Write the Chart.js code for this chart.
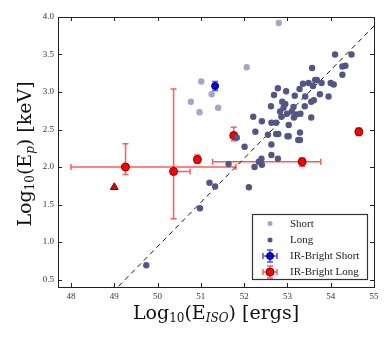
<!DOCTYPE html>
<html>
<head>
<meta charset="utf-8">
<script src="https://cdn.jsdelivr.net/npm/chart.js@4.4.0/dist/chart.umd.min.js"></script>
<style>
  body { margin: 0; background: #fff; }
  #wrap { position: relative; width: 391px; height: 341px; }
</style>
</head>
<body>
<div id="wrap"><canvas id="chart"></canvas></div>
<script>
// tick labels
const xTicks = [48, 49, 50, 51, 52, 53, 54, 55];
const yTicks = [0.5, 1.0, 1.5, 2.0, 2.5, 3.0, 3.5, 4.0];

// Short GRBs
const shortX = [52.80, 52.06, 51.01, 50.77, 50.97, 51.25, 51.40];
const shortY = [3.92, 3.33, 3.14, 2.87, 2.73, 2.97, 2.79];

// Long GRBs
const longX = [49.74, 50.98, 51.20, 51.33, 51.64, 51.83, 52.01, 52.11, 52.21, 52.26,
  52.24, 52.34, 52.40, 52.41, 52.41, 52.55, 52.62, 52.63, 52.63, 52.63,
  52.69, 52.74, 52.74, 52.78, 52.79, 52.78, 52.83, 52.86, 52.88, 52.91,
  52.95, 52.97, 52.99, 53.00, 53.03, 53.03, 53.10, 53.14, 53.15, 53.17,
  53.20, 53.25, 53.29, 53.29, 53.30, 53.28, 53.36, 53.40, 53.41, 53.49,
  53.57, 53.55, 53.55, 53.59, 53.64, 53.61, 53.68, 53.75, 53.79, 53.95,
  54.00, 54.07, 54.10, 54.27, 54.27, 54.34, 54.48];
const longY = [0.69, 1.45, 1.79, 1.74, 2.04, 2.39, 2.27, 1.73, 2.67, 2.47,
  2.00, 2.07, 2.11, 2.03, 2.61, 2.43, 2.81, 2.59, 2.30, 2.16,
  2.96, 2.59, 2.44, 3.05, 2.44, 2.11, 2.74, 2.67, 2.87, 2.79,
  2.84, 3.01, 2.71, 2.41, 2.41, 2.56, 2.74, 2.80, 2.66, 2.95,
  2.70, 2.36, 2.36, 2.46, 2.71, 3.04, 3.11, 2.81, 2.94, 3.12,
  3.32, 2.66, 2.87, 3.08, 3.16, 2.89, 3.16, 2.97, 3.12, 2.94,
  3.12, 3.10, 3.50, 3.23, 3.34, 3.35, 3.50];

// IR-bright short
const irShortX = [51.33];
const irShortY = [3.08];
const irShortXErr = [0.05];
const irShortYErr = [0.06];

// IR-bright long (asymmetric errors)
const irLongX = [49.26, 50.37, 50.92, 51.76, 53.34, 54.65];
const irLongY = [2.00, 1.94, 2.10, 2.42, 2.07, 2.47];
const irLongXLo = [1.26, 0.00, 0.05, 0.05, 2.07, 0.04];
const irLongXHi = [2.55, 0.38, 0.05, 0.05, 0.43, 0.04];
const irLongYLo = [0.10, 0.63, 0.05, 0.07, 0.06, 0.05];
const irLongYHi = [0.31, 1.10, 0.06, 0.11, 0.05, 0.05];

// limit marker
const limitX = [49.0];
const limitY = [1.73];

// dashed relation
const fitX = [49.1, 55.0];
const fitY = [0.41, 3.88];

const pts = (xs, ys) => xs.map((x, i) => ({ x: x, y: ys[i] }));

const serif = "'Liberation Serif', 'Times New Roman', serif";
const titleFont = "'DejaVu Serif', serif";

// error bars drawn right before their own dataset
const errorBars = {
  id: 'errorBars',
  beforeDatasetDraw(chart, args) {
    const ds = chart.data.datasets[args.index];
    if (!ds.err) return;
    const xs = chart.scales.x, ys = chart.scales.y, ctx = chart.ctx;
    const e = ds.err;
    ctx.save();
    ctx.strokeStyle = ds.errColor;
    ctx.lineWidth = 1.5;
    ds.data.forEach((p, i) => {
      const px = xs.getPixelForValue(p.x), py = ys.getPixelForValue(p.y);
      const cap = 3;
      if (e.xLo[i] > 0 || e.xHi[i] > 0) {
        const x0 = xs.getPixelForValue(p.x - e.xLo[i]);
        const x1 = xs.getPixelForValue(p.x + e.xHi[i]);
        ctx.beginPath();
        ctx.moveTo(x0, py); ctx.lineTo(x1, py);
        if (e.xLo[i] > 0) { ctx.moveTo(x0, py - cap); ctx.lineTo(x0, py + cap); }
        if (e.xHi[i] > 0) { ctx.moveTo(x1, py - cap); ctx.lineTo(x1, py + cap); }
        ctx.stroke();
      }
      const y0 = ys.getPixelForValue(p.y - e.yLo[i]);
      const y1 = ys.getPixelForValue(p.y + e.yHi[i]);
      ctx.beginPath();
      ctx.moveTo(px, y0); ctx.lineTo(px, y1);
      ctx.moveTo(px - cap, y0); ctx.lineTo(px + cap, y0);
      ctx.moveTo(px - cap, y1); ctx.lineTo(px + cap, y1);
      ctx.stroke();
    });
    ctx.restore();
  }
};

function richText(ctx, parts, cx, cy) {
  let w = 0;
  parts.forEach(p => { ctx.font = p.f; p.w = ctx.measureText(p.t).width; w += p.w; });
  let x = cx - w / 2;
  parts.forEach(p => {
    ctx.font = p.f;
    ctx.fillText(p.t, x, cy + (p.dy || 0));
    x += p.w;
  });
}

function legendDot(ctx, x, y, r, fill, edge) {
  ctx.beginPath();
  ctx.arc(x, y, r, 0, Math.PI * 2);
  ctx.fillStyle = fill; ctx.fill();
  if (edge) { ctx.strokeStyle = edge; ctx.lineWidth = 1; ctx.stroke(); }
}

function legendErr(ctx, x, y, color) {
  ctx.strokeStyle = color; ctx.lineWidth = 1.5;
  ctx.beginPath();
  ctx.moveTo(x - 7, y); ctx.lineTo(x + 7, y);
  ctx.moveTo(x - 7, y - 3); ctx.lineTo(x - 7, y + 3);
  ctx.moveTo(x + 7, y - 3); ctx.lineTo(x + 7, y + 3);
  ctx.moveTo(x, y - 6); ctx.lineTo(x, y + 6);
  ctx.moveTo(x - 3, y - 6); ctx.lineTo(x + 3, y - 6);
  ctx.moveTo(x - 3, y + 6); ctx.lineTo(x + 3, y + 6);
  ctx.stroke();
}

const decorations = {
  id: 'decorations',
  afterDraw(chart) {
    const ctx = chart.ctx, a = chart.chartArea;
    const xs = chart.scales.x, ys = chart.scales.y;
    ctx.save();
    // frame
    ctx.strokeStyle = '#222';
    ctx.lineWidth = 1;
    ctx.strokeRect(Math.round(a.left) + 0.5, Math.round(a.top) + 0.5,
      Math.round(a.right - a.left), Math.round(a.bottom - a.top));
    // inward ticks on all sides
    ctx.beginPath();
    xTicks.forEach(v => {
      const px = Math.round(xs.getPixelForValue(v)) + 0.5;
      ctx.moveTo(px, a.bottom); ctx.lineTo(px, a.bottom - 4);
      ctx.moveTo(px, a.top); ctx.lineTo(px, a.top + 4);
    });
    yTicks.forEach(v => {
      const py = Math.round(ys.getPixelForValue(v)) + 0.5;
      ctx.moveTo(a.left, py); ctx.lineTo(a.left + 4, py);
      ctx.moveTo(a.right, py); ctx.lineTo(a.right - 4, py);
    });
    ctx.stroke();

    // legend
    const lx = a.right - 122, ly = a.bottom - 73, lw = 115, lh = 65;
    ctx.fillStyle = '#fff';
    ctx.fillRect(lx, ly, lw, lh);
    ctx.strokeStyle = '#333';
    ctx.lineWidth = 1.2;
    ctx.strokeRect(lx + 0.5, ly + 0.5, lw, lh);
    const mx = lx + 18, tx = lx + 38;
    const rows = [ly + 9.5, ly + 26, ly + 42, ly + 58];
    legendDot(ctx, mx, rows[0], 2.5, '#a4a4cc');
    legendDot(ctx, mx, rows[1], 2.5, '#555585');
    legendErr(ctx, mx, rows[2], 'rgba(30,30,255,0.8)');
    legendDot(ctx, mx, rows[2], 3.5, '#0000e0', '#000060');
    legendErr(ctx, mx, rows[3], 'rgba(255,20,20,0.7)');
    legendDot(ctx, mx, rows[3], 4, '#ff0000', '#800000');
    ctx.fillStyle = '#222';
    ctx.font = '11px ' + serif;
    ctx.textBaseline = 'middle';
    ctx.textAlign = 'left';
    ['Short', 'Long', 'IR-Bright Short', 'IR-Bright Long'].forEach((t, i) => {
      ctx.fillText(t, tx, rows[i] + 0.5);
    });

    // axis titles
    ctx.fillStyle = '#111';
    ctx.textBaseline = 'alphabetic';
    const big = '19px ' + titleFont, sub = '12px ' + titleFont, subIt = 'italic 12px ' + titleFont;
    richText(ctx, [
      { t: 'Log', f: big }, { t: '10', f: sub, dy: 3 }, { t: '(E', f: big },
      { t: 'ISO', f: subIt, dy: 3 }, { t: ') [ergs]', f: big }
    ], (a.left + a.right) / 2, 319);
    ctx.translate(31, 154);
    ctx.rotate(-Math.PI / 2);
    richText(ctx, [
      { t: 'Log', f: big }, { t: '10', f: sub, dy: 3 }, { t: '(E', f: big },
      { t: 'p', f: subIt, dy: 3 }, { t: ') [keV]', f: big }
    ], 0, 0);
    ctx.restore();
  }
};

new Chart(document.getElementById('chart'), {
  type: 'scatter',
  data: {
    datasets: [
      {
        label: 'Short',
        data: pts(shortX, shortY),
        backgroundColor: '#a4a4cc',
        borderWidth: 0,
        pointRadius: 3.2
      },
      {
        label: 'Long',
        data: pts(longX, longY),
        backgroundColor: '#555585',
        borderWidth: 0,
        pointRadius: 3.2
      },
      {
        label: 'fit',
        type: 'line',
        data: pts(fitX, fitY),
        borderColor: '#111',
        borderWidth: 1,
        borderDash: [5, 4],
        pointRadius: 0,
        fill: false
      },
      {
        label: 'IR-Bright Short',
        data: pts(irShortX, irShortY),
        backgroundColor: '#0000e0',
        borderColor: '#000060',
        borderWidth: 1,
        pointRadius: 3.5,
        errColor: 'rgba(30,30,255,0.8)',
        err: { xLo: irShortXErr, xHi: irShortXErr, yLo: irShortYErr, yHi: irShortYErr }
      },
      {
        label: 'IR-Bright Long',
        data: pts(irLongX, irLongY),
        backgroundColor: '#ff0000',
        borderColor: '#800000',
        borderWidth: 1,
        pointRadius: 4,
        errColor: 'rgba(255,20,20,0.7)',
        err: { xLo: irLongXLo, xHi: irLongXHi, yLo: irLongYLo, yHi: irLongYHi }
      },
      {
        label: 'limit',
        data: pts(limitX, limitY),
        pointStyle: 'triangle',
        backgroundColor: '#ee0000',
        borderColor: '#600000',
        borderWidth: 1,
        pointRadius: 4.5
      }
    ]
  },
  options: {
    responsive: true,
    maintainAspectRatio: false,
    animation: false,
    layout: { padding: { top: 17, right: 17, left: 0, bottom: 0 } },
    scales: {
      x: {
        type: 'linear',
        min: 47.7,
        max: 55,
        afterBuildTicks: s => { s.ticks = xTicks.map(v => ({ value: v })); },
        afterFit: s => { s.height = 54; },
        grid: { display: false, drawTicks: false },
        border: { display: false },
        ticks: {
          padding: 4,
          color: '#333',
          font: { family: serif, size: 9 },
          callback: v => String(v)
        }
      },
      y: {
        type: 'linear',
        min: 0.4,
        max: 4.0,
        afterBuildTicks: s => { s.ticks = yTicks.map(v => ({ value: v })); },
        afterFit: s => { s.width = 58; },
        grid: { display: false, drawTicks: false },
        border: { display: false },
        ticks: {
          padding: 4,
          color: '#333',
          font: { family: serif, size: 9 },
          callback: v => v.toFixed(1)
        }
      }
    },
    plugins: {
      legend: { display: false },
      tooltip: { enabled: false }
    }
  },
  plugins: [errorBars, decorations]
});
</script>
</body>
</html>
